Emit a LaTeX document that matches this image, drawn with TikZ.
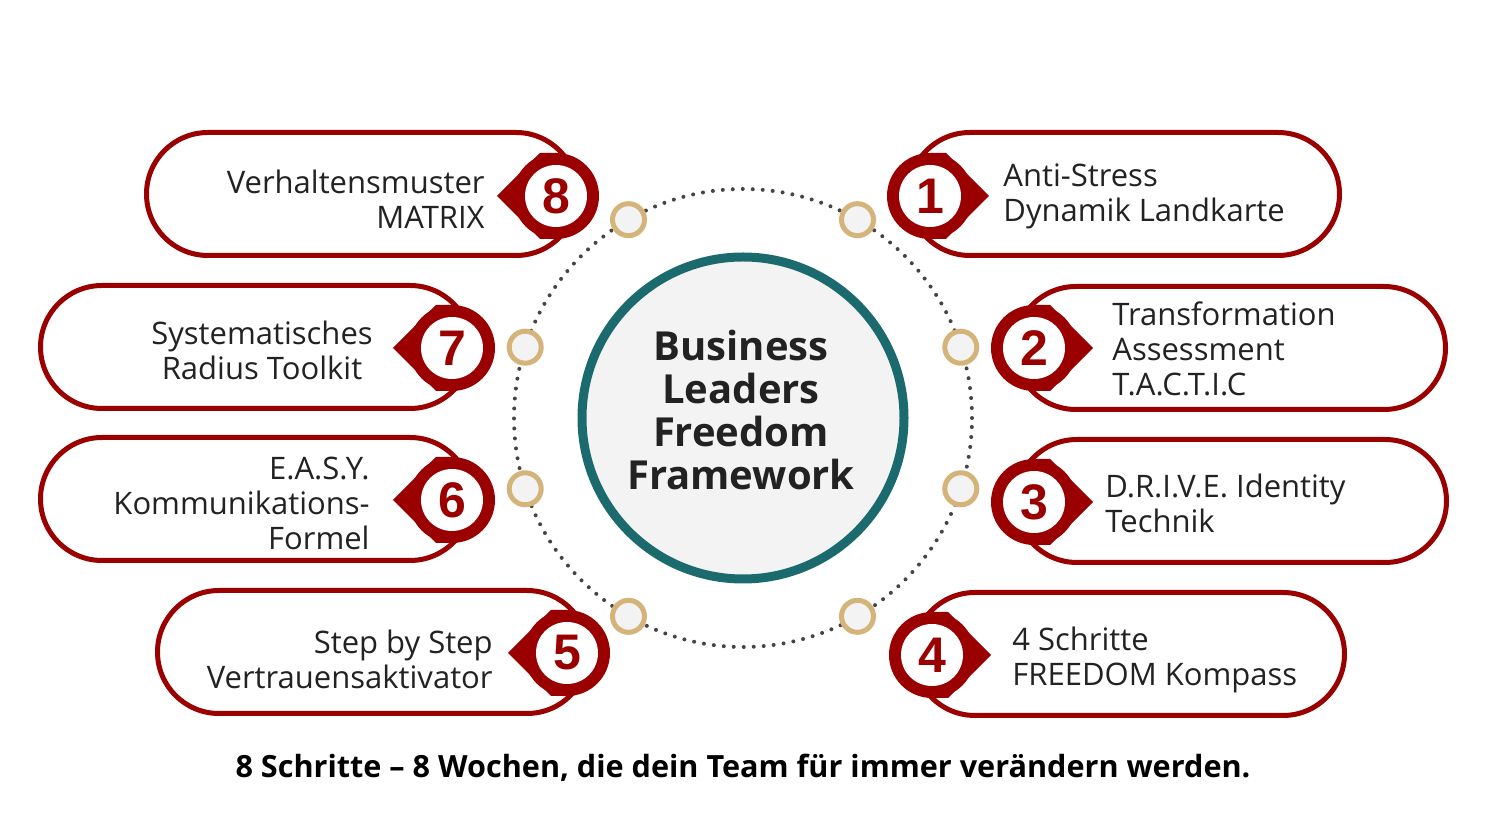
\documentclass[tikz,border=0pt]{standalone}
\usepackage{fontspec}
\setmainfont{Open Sans}
\newfontfamily\numfont{Liberation Sans}
\usetikzlibrary{shapes.misc}

\definecolor{frred}{HTML}{9B0000}
\definecolor{ringgold}{HTML}{D4B47A}
\definecolor{coreteal}{HTML}{1B6B6E}
\definecolor{corefill}{HTML}{F3F3F3}
\definecolor{dotgray}{HTML}{444444}
\definecolor{inktext}{HTML}{222222}

\tikzset{
  pill/.style={rounded rectangle, draw=frred, line width=2.5pt, fill=white, minimum width=215.5pt, minimum height=61.5pt, inner sep=0pt},
  ring/.style={circle, draw=ringgold, line width=2.5pt, fill=corefill, minimum size=16pt, inner sep=0pt},
  core/.style={circle, draw=coreteal, line width=4.5pt, fill=corefill, minimum size=161pt, inner sep=0pt},
  coretext/.style={align=center, text=inktext, font=\fontsize{20}{21.5}\selectfont\bfseries, inner sep=0pt},
  steptext/.style={text=inktext, font=\fontsize{15.5}{17.5}\selectfont, inner sep=0pt},
  num/.style={text=frred, font=\numfont\bfseries\fontsize{25}{25}\selectfont, inner sep=0pt},
  motto/.style={text=black, font=\fontsize{15.3}{18}\selectfont\bfseries, inner sep=0pt}
}

\begin{document}
\begin{tikzpicture}[x=0.5pt,y=-0.5pt]
  \useasboundingbox (0,0) rectangle (1490,838);

  % dotted orbit with the eight rings
  \coordinate (cen) at (743,418);
  \draw[dotgray, line width=2pt, line cap=round, dash pattern=on 0pt off 5pt] (cen) circle (114.5pt);
  \foreach \a [count=\i] in {60,18,-18,-60,-120,-162,162,120}
    \node[ring] (r\i) at ([shift={(\a:229)}]cen) {};

  \draw (cen) node[core] (core) {};
  \draw (741,410) node[coretext] (title) {Business\\Leaders\\Freedom\\Framework};

  % pills
  \draw (362,194) node[pill] (p8) {};
  \draw (256,347) node[pill] (p7) {};
  \draw (256,499) node[pill] (p6) {};
  \draw (373,652) node[pill] (p5) {};
  \draw (1124,194) node[pill] (p1) {};
  \draw (1230,348) node[pill] (p2) {};
  \draw (1231,501) node[pill] (p3) {};
  \draw (1129,654) node[pill] (p4) {};

  % badges
  \foreach \n/\x/\y/\dir in {8/556/196/-1, 7/452/348/-1, 6/452/500/-1, 5/567/653/-1,
                              1/930/196/1, 2/1034/348/1, 3/1034/502/1, 4/932/655/1} {
    \fill[frred] (\x,\y) circle (21.5pt);
    \fill[frred] (\x,\y-43) -- ++(\dir*16,0) -- ++(\dir*43,43) -- ++(-\dir*43,43) -- ++(-\dir*16,0) -- cycle;
    \fill[white] (\x,\y) circle (15.5pt);
    \node[num] (b\n) at (\x,\y) {\n};
  }

  % step texts
  \draw (485,199) node[steptext, anchor=east, align=right] (t8) {Verhaltensmuster\\MATRIX};
  \draw (262,350) node[steptext, align=center] (t7) {Systematisches\\Radius Toolkit};
  \draw (370,503) node[steptext, anchor=east, align=right] (t6) {E.A.S.Y.\\Kommunikations-\\Formel};
  \draw (493,659) node[steptext, anchor=east, align=right] (t5) {Step by Step\\Vertrauensaktivator};
  \draw (1003,196) node[steptext, anchor=west, align=left] (t1) {Anti-Stress\\Dynamik Landkarte};
  \draw (1112,349) node[steptext, anchor=west, align=left] (t2) {Transformation\\Assessment\\T.A.C.T.I.C};
  \draw (1105,503) node[steptext, anchor=west, align=left] (t3) {D.R.I.V.E. Identity\\Technik};
  \draw (1012,660) node[steptext, anchor=west, align=left] (t4) {4 Schritte\\FREEDOM Kompass};

  \draw (743,768) node[motto] (motto) {8 Schritte – 8 Wochen, die dein Team für immer verändern werden.};
\end{tikzpicture}
\end{document}
